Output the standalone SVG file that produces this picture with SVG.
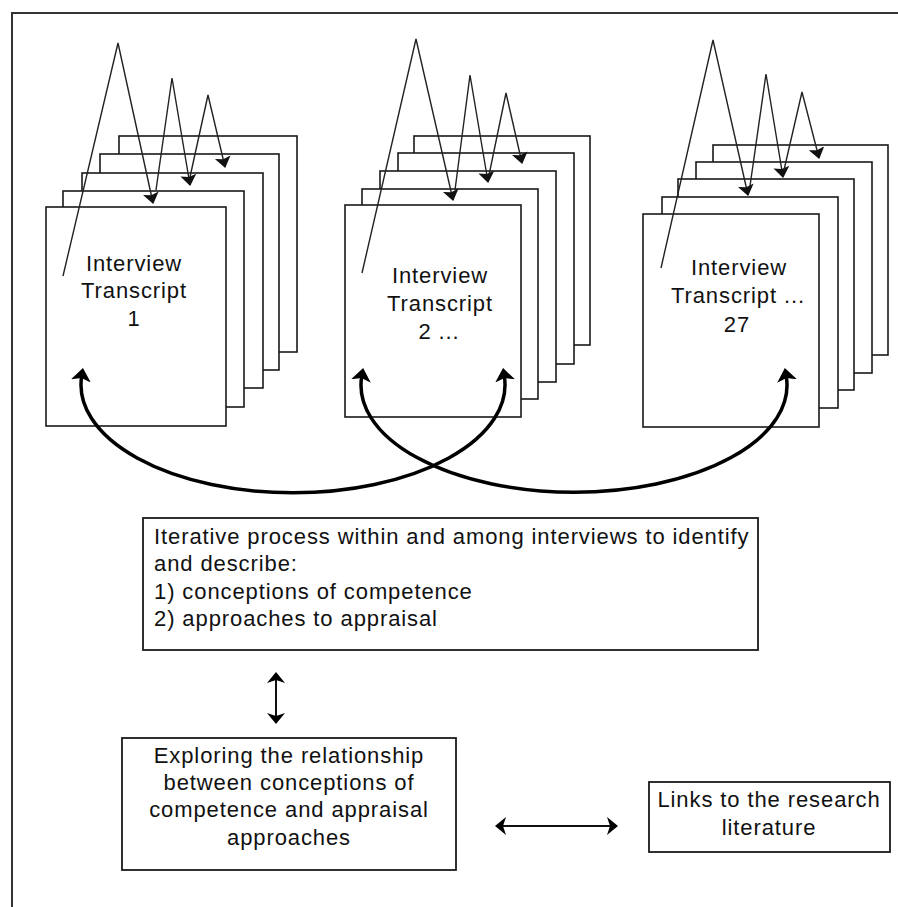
<svg xmlns="http://www.w3.org/2000/svg" width="898" height="907" viewBox="0 0 898 907">
<style>
.pg{fill:#fff;stroke:#1a1a1a;stroke-width:1.6}
.bx{fill:#fff;stroke:#1a1a1a;stroke-width:1.8}
.t{font-family:"Liberation Sans",Arial,sans-serif;font-size:22px;letter-spacing:0.9px;fill:#111}
.c{text-anchor:middle}
.zz{fill:none;stroke:#222;stroke-width:1.4;marker-end:url(#ahs)}
.cv{fill:none;stroke:#000;stroke-width:3.5;marker-start:url(#ahc);marker-end:url(#ahc)}
.dl{fill:none;stroke:#111;stroke-width:2}
</style>
<defs>
<marker id="ahs" markerUnits="userSpaceOnUse" viewBox="0 -9 11 18" markerWidth="11" markerHeight="18" refX="10" refY="0" orient="auto"><path d="M0,-8 L11,0 L0,8 L2,0 Z" fill="#111"/></marker>
<marker id="ahc" markerUnits="userSpaceOnUse" viewBox="0 -11 13 22" markerWidth="13" markerHeight="22" refX="5" refY="0" orient="auto-start-reverse"><path d="M0,-10 L13,0 L0,10 L3,0 Z" fill="#000"/></marker>
<marker id="ahd" markerUnits="userSpaceOnUse" viewBox="0 -10 11 20" markerWidth="11" markerHeight="20" refX="4" refY="0" orient="auto-start-reverse"><path d="M0,-9 L11,0 L0,9 L3,0 Z" fill="#000"/></marker>
</defs>
<path d="M12,907 L12,13 L898,13" fill="none" stroke="#333" stroke-width="2"/>

<g id="stack1">
<rect class="pg" x="119" y="136" width="178" height="216"/>
<rect class="pg" x="100" y="154" width="179" height="216"/>
<rect class="pg" x="82" y="173" width="181" height="215"/>
<rect class="pg" x="63" y="191" width="181" height="216"/>
<rect class="pg" x="46" y="207" width="180" height="219"/>
<text class="t c" x="134" y="271">Interview</text>
<text class="t c" x="134" y="298">Transcript</text>
<text class="t c" x="134" y="326">1</text>
</g>

<g id="stack2">
<rect class="pg" x="414" y="136" width="176" height="209"/>
<rect class="pg" x="398" y="153" width="176" height="211"/>
<rect class="pg" x="380" y="171" width="176" height="211"/>
<rect class="pg" x="362" y="189" width="176" height="210"/>
<rect class="pg" x="345" y="205" width="176" height="212"/>
<text class="t c" x="440" y="283">Interview</text>
<text class="t c" x="440" y="311">Transcript</text>
<text class="t c" x="439" y="339">2 ...</text>
</g>

<g id="stack3">
<rect class="pg" x="713" y="145" width="175" height="210"/>
<rect class="pg" x="696" y="162" width="176" height="211"/>
<rect class="pg" x="678" y="179" width="176" height="211"/>
<rect class="pg" x="662" y="197" width="176" height="211"/>
<rect class="pg" x="643" y="214" width="176" height="213"/>
<text class="t c" x="739" y="275">Interview</text>
<text class="t c" x="738" y="303">Transcript ...</text>
<text class="t c" x="737" y="332">27</text>
</g>

<g id="iterative">
<rect class="bx" x="143" y="518" width="615" height="132"/>
<text class="t" x="154" y="544">Iterative process within and among interviews to identify</text>
<text class="t" x="154" y="571">and describe:</text>
<text class="t" x="154" y="599">1) conceptions of competence</text>
<text class="t" x="154" y="626">2) approaches to appraisal</text>
</g>

<g id="exploring">
<rect class="bx" x="122" y="738" width="334" height="132"/>
<text class="t c" x="289" y="763">Exploring the relationship</text>
<text class="t c" x="289" y="790">between conceptions of</text>
<text class="t c" x="289" y="817">competence and appraisal</text>
<text class="t c" x="289" y="845">approaches</text>
</g>

<g id="links">
<rect class="bx" x="649" y="782" width="241" height="70"/>
<text class="t c" x="769" y="807">Links to the research</text>
<text class="t c" x="769" y="835">literature</text>
</g>

<g id="connectors">
<path class="zz" d="M63,276 L118,43 L153,203"/>
<path class="zz" d="M156,190 L172,78 L190,185"/>
<path class="zz" d="M190,177 L208,95 L225,167"/>
<path class="zz" d="M362,273 L416,39 L453,200"/>
<path class="zz" d="M455,190 L470,75 L488,182"/>
<path class="zz" d="M489,175 L506,93 L522,163"/>
<path class="zz" d="M661,268 L713,40 L748,195"/>
<path class="zz" d="M750,186 L766,74 L783,177"/>
<path class="zz" d="M784,170 L802,92 L819,158"/>
<path class="cv" d="M81.7,376 A212,108 0 1 0 504.3,376"/>
<path class="cv" d="M361.8,376 A213,107 0 1 0 786.2,376"/>
<path class="dl" d="M276,679 L276,717" marker-start="url(#ahd)" marker-end="url(#ahd)"/>
<path class="dl" d="M502,826 L611,826" marker-start="url(#ahd)" marker-end="url(#ahd)"/>
</g>
</svg>
